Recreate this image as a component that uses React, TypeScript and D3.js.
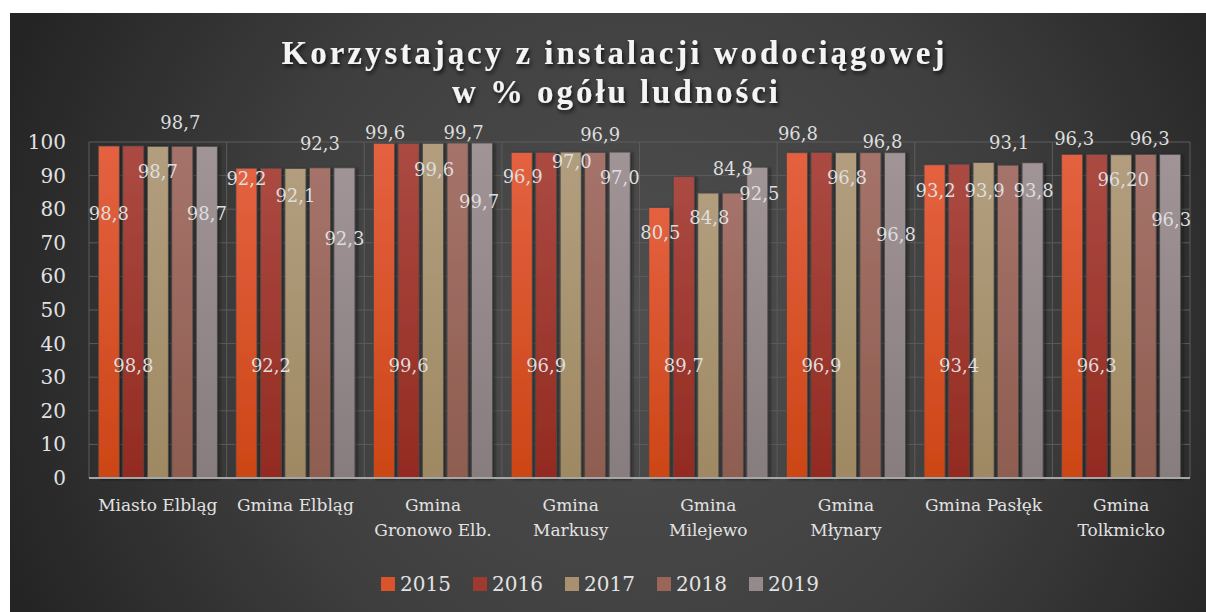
import React from "react";
import * as d3 from "d3";

const categories: string[][] = [
  ["Miasto Elbląg"],
  ["Gmina Elbląg"],
  ["Gmina", "Gronowo Elb."],
  ["Gmina", "Markusy"],
  ["Gmina", "Milejewo"],
  ["Gmina", "Młynary"],
  ["Gmina Pasłęk"],
  ["Gmina", "Tolkmicko"],
];
const years = ["2015", "2016", "2017", "2018", "2019"];
const v2015 = [98.8, 92.2, 99.6, 96.9, 80.5, 96.8, 93.2, 96.3];
const v2016 = [98.8, 92.2, 99.6, 96.9, 89.7, 96.9, 93.4, 96.3];
const v2017 = [98.7, 92.1, 99.6, 97.0, 84.8, 96.8, 93.9, 96.2];
const v2018 = [98.7, 92.3, 99.7, 96.9, 84.8, 96.8, 93.1, 96.3];
const v2019 = [98.7, 92.3, 99.7, 97.0, 92.5, 96.8, 93.8, 96.3];
const series = [v2015, v2016, v2017, v2018, v2019];
// label texts as shown in the chart
const txt2017 = ["98,7", "92,1", "99,6", "97,0", "84,8", "96,8", "93,9", "96,20"];
const yTicks = [0, 10, 20, 30, 40, 50, 60, 70, 80, 90, 100];

// layout: where each data label sits (value units on the y axis) and x nudge (px)
const labelAt: number[][] = [
  [78.6, 89.0, 102.7, 89.6, 72.9, 102.4, 85.4, 100.9],
  [33.3, 33.3, 33.3, 33.3, 33.3, 33.3, 33.3, 33.3],
  [91.1, 83.9, 91.7, 94.0, 77.4, 89.3, 85.4, 88.7],
  [105.7, 99.4, 102.9, 102.1, 92.0, 100.0, 99.7, 100.9],
  [78.6, 71.1, 82.1, 89.3, 84.5, 72.3, 85.4, 76.8],
];
const labelDx: number[][] = [
  [0, 0, 1, 1, 1, 1, 1, 2],
  [0, 0, 0, 0, 0, 0, 0, 0],
  [0, 0, 1, 1, 1, 1, 1, 2],
  [-2, 0, 6, 5, 0, 12, 1, 4],
  [0, 0, -3, 0, 2, 1, 1, 1],
];

const colors = [
  ["#e46140", "#cc4616"],
  ["#ab4a42", "#932b21"],
  ["#b29e7e", "#9f8963"],
  ["#a6736a", "#8e5d50"],
  ["#a09496", "#887d7e"],
];
const legendColors = ["#d9542a", "#9e3a30", "#a89070", "#9a6658", "#958a8b"];

const W = 1206;
const H = 612;
const plot = { left: 89, right: 1190, top: 142, bottom: 478 };
const serif = "'DejaVu Serif', serif";
const titleFont = "'Liberation Serif', 'DejaVu Serif', serif";

export default function App() {
  const x0 = d3
    .scaleBand<number>()
    .domain(d3.range(categories.length))
    .range([plot.left, plot.right])
    .paddingInner(0)
    .paddingOuter(0);
  const x1 = d3
    .scaleBand<number>()
    .domain(d3.range(years.length))
    .range([0, x0.bandwidth()])
    .paddingInner(0.143)
    .paddingOuter(0.38);
  const y = d3.scaleLinear().domain([0, 100]).range([plot.bottom, plot.top]);
  const fmt = (v: number) => v.toFixed(1).replace(".", ",");

  const boundaries = d3.range(categories.length + 1).map((i) =>
    i < categories.length ? (x0(i) as number) : plot.right
  );

  return (
    <svg
      width={W}
      height={H}
      style={{ position: "absolute", left: 0, top: 0, display: "block" }}
    >
      <defs>
        <radialGradient id="bg" gradientUnits="userSpaceOnUse" cx={640} cy={320} r={680}>
          <stop offset="0" stopColor="#4f4f4f" />
          <stop offset="0.55" stopColor="#3f3f3f" />
          <stop offset="1" stopColor="#242424" />
        </radialGradient>
        {colors.map((c, i) => (
          <linearGradient key={i} id={`g${i}`} x1="0" y1="0" x2="0" y2="1">
            <stop offset="0" stopColor={c[0]} />
            <stop offset="1" stopColor={c[1]} />
          </linearGradient>
        ))}
        <filter id="tshadow" x="-10%" y="-30%" width="120%" height="160%">
          <feDropShadow dx="1.5" dy="2.5" stdDeviation="2" floodColor="#000" floodOpacity="0.75" />
        </filter>
        <filter id="bshadow" x="-30%" y="-10%" width="160%" height="120%">
          <feDropShadow dx="2" dy="1" stdDeviation="1.5" floodColor="#111" floodOpacity="0.6" />
        </filter>
      </defs>
      <rect x={0} y={0} width={W} height={H} fill="#ffffff" />
      <rect x={10} y={13} width={W - 10} height={H - 13} fill="url(#bg)" />

      {/* title */}
      <g filter="url(#tshadow)" fill="#f4f4f4" fontFamily={titleFont} fontWeight="bold" fontSize={33}>
        <text x={613} y={64} textAnchor="middle" textLength={663} lengthAdjust="spacing">
          Korzystający z instalacji wodociągowej
        </text>
        <text x={615} y={103} textAnchor="middle" textLength={326} lengthAdjust="spacing">
          w % ogółu ludności
        </text>
      </g>

      {/* gridlines */}
      <g stroke="#5c5c5c" strokeWidth={1}>
        {yTicks.map((t) => (
          <line key={t} x1={plot.left} x2={plot.right} y1={y(t)} y2={y(t)} />
        ))}
        {boundaries.map((b, i) => (
          <line key={i} x1={b} x2={b} y1={plot.top} y2={plot.bottom} />
        ))}
      </g>

      {/* y tick labels */}
      <g fill="#e2e2e2" fontFamily={serif} fontSize={20} textAnchor="end">
        {yTicks.map((t) => (
          <text key={t} x={66} y={y(t)} dy="0.35em">
            {t}
          </text>
        ))}
      </g>

      {/* bars */}
      <g filter="url(#bshadow)">
        {series.map((vals, s) =>
          vals.map((v, c) => (
            <rect
              key={`${s}-${c}`}
              x={(x0(c) as number) + (x1(s) as number)}
              y={y(v)}
              width={x1.bandwidth()}
              height={y(0) - y(v)}
              fill={`url(#g${s})`}
              stroke="#4a4a4a"
              strokeWidth={0.8}
            />
          ))
        )}
      </g>

      {/* axis line */}
      <line x1={plot.left} x2={plot.right} y1={y(0)} y2={y(0)} stroke="#a6a6a6" strokeWidth={2} />

      {/* data labels */}
      <g fill="#dedede" fontFamily={serif} fontSize={18} textAnchor="middle">
        {series.map((vals, s) =>
          vals.map((v, c) => (
            <text
              key={`${s}-${c}`}
              x={(x0(c) as number) + (x1(s) as number) + x1.bandwidth() / 2 + labelDx[s][c]}
              y={y(labelAt[s][c])}
              dy="0.35em"
            >
              {s === 2 ? txt2017[c] : fmt(v)}
            </text>
          ))
        )}
      </g>

      {/* category labels */}
      <g fill="#e2e2e2" fontFamily={serif} fontSize={17} textAnchor="middle">
        {categories.map((lines, c) => (
          <text key={c} x={(x0(c) as number) + x0.bandwidth() / 2} y={505}>
            {lines.map((l, i) => (
              <tspan key={i} x={(x0(c) as number) + x0.bandwidth() / 2} dy={i === 0 ? "0.35em" : 25}>
                {l}
              </tspan>
            ))}
          </text>
        ))}
      </g>

      {/* legend */}
      <g fontFamily={serif} fontSize={20} fill="#e2e2e2">
        {years.map((yr, i) => (
          <g key={yr} transform={`translate(${381 + i * 92},577)`}>
            <rect x={0} y={0} width={14} height={14} fill={legendColors[i]} />
            <text x={19} y={7} dy="0.36em">
              {yr}
            </text>
          </g>
        ))}
      </g>
    </svg>
  );
}
